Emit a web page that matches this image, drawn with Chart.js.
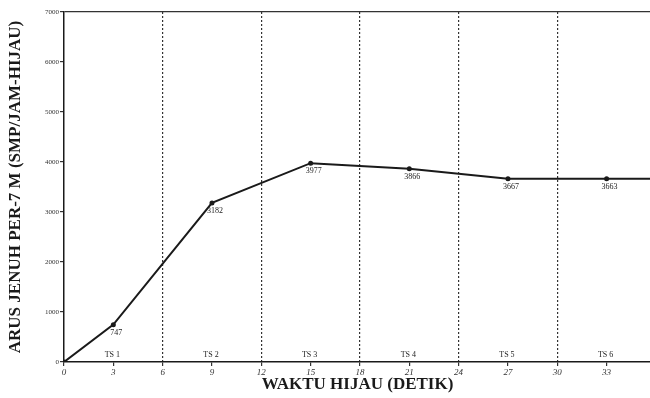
<!DOCTYPE html>
<html>
<head>
<meta charset="utf-8">
<script src="https://cdn.jsdelivr.net/npm/chart.js@4.4.1/dist/chart.umd.min.js"></script>
<style>
  html, body { margin: 0; padding: 0; background: #fff; overflow: hidden; width: 650px; height: 398px; }
  #wrap { width: 655px; height: 398px; position: relative; }
</style>
</head>
<body>
<div id="wrap"><canvas id="chart"></canvas></div>
<script>
// waktu hijau (detik) and arus jenuh per-7 m
const waktu = [0, 3, 9, 15, 21, 27, 33, 35.7]
const arus = [0, 747, 3182, 3977, 3866, 3667, 3663, 3663]
const arusLabel = ["", "747", "3182", "3977", "3866", "3667", "3663", ""]

// time slices TS 1..6 and where their names sit
const tsNames = ["TS 1", "TS 2", "TS 3", "TS 4", "TS 5", "TS 6"]
const tsCentre = [3, 9, 15, 21, 27, 33]
const tsBorders = [6, 12, 18, 24, 30]

const xTicks = [0, 3, 6, 9, 12, 15, 18, 21, 24, 27, 30, 33]
const yTicks = [0, 1000, 2000, 3000, 4000, 5000, 6000, 7000]

const serif = '"Liberation Serif", "DejaVu Serif", serif'
const ink = "#1a1a1a"

// point values under the markers and TS names above the x axis
const textPlugin = {
    id: "textLabels",
    afterDatasetsDraw(chart) {
        const ctx = chart.ctx
        const x = chart.scales.x
        const y = chart.scales.y
        ctx.save()
        ctx.fillStyle = "#222"
        ctx.textAlign = "center"
        ctx.textBaseline = "top"
        ctx.font = "8px " + serif
        for (let i = 0; i < waktu.length; i++) {
            if (!arusLabel[i]) continue
            ctx.fillText(arusLabel[i], x.getPixelForValue(waktu[i]) + 3, y.getPixelForValue(arus[i]) + 4)
        }
        ctx.textBaseline = "bottom"
        for (let i = 0; i < tsNames.length; i++) {
            ctx.fillText(tsNames[i], x.getPixelForValue(tsCentre[i]) - 1, y.getPixelForValue(0) - 3)
        }
        ctx.restore()
    }
}

new Chart(document.getElementById("chart"), {
    type: "line",
    data: {
        datasets: [{
            data: waktu.map((t, i) => ({ x: t, y: arus[i] })),
            borderColor: ink,
            borderWidth: 2,
            backgroundColor: ink,
            pointRadius: waktu.map((t, i) => (i === waktu.length - 1 ? 0 : 2.5)),
            pointBorderWidth: 0,
            tension: 0,
            fill: false
        }]
    },
    options: {
        responsive: true,
        maintainAspectRatio: false,
        animation: false,
        layout: { padding: { top: 12, right: 0, left: 0, bottom: 0 } },
        plugins: {
            legend: { display: false },
            tooltip: { enabled: false }
        },
        scales: {
            x: {
                type: "linear",
                min: 0,
                max: 35.7,
                afterBuildTicks: s => { s.ticks = xTicks.map(v => ({ value: v })) },
                afterFit: s => { s.height = 36; s.paddingRight = 0; s.paddingLeft = 0 },
                border: { color: ink, width: 1.5, dash: [2, 2] },
                grid: {
                    color: c => (c.tick && tsBorders.includes(c.tick.value) ? "#333" : "rgba(0,0,0,0)"),
                    lineWidth: 1.2,
                    tickColor: "#333",
                    tickLength: 4,
                    drawTicks: true
                },
                ticks: {
                    color: "#333",
                    font: { family: serif, size: 9, style: "italic" },
                    padding: 1,
                    maxRotation: 0,
                    autoSkip: false
                },
                title: {
                    display: true,
                    text: "WAKTU HIJAU (DETIK)",
                    color: ink,
                    font: { family: serif, size: 17, weight: "bold" },
                    padding: { top: 0, bottom: 3 }
                }
            },
            y: {
                min: 0,
                max: 7000,
                afterBuildTicks: s => { s.ticks = yTicks.map(v => ({ value: v })) },
                afterFit: s => { s.width = 64 },
                border: { color: ink, width: 1.5 },
                grid: {
                    color: c => (c.tick && c.tick.value === 7000 ? "#333" : "rgba(0,0,0,0)"),
                    lineWidth: 1.2,
                    tickColor: "#333",
                    tickLength: 4
                },
                ticks: {
                    color: "#333",
                    font: { family: serif, size: 7 },
                    padding: 1,
                    callback: v => String(v)
                },
                title: {
                    display: true,
                    text: "ARUS JENUH PER-7 M (SMP/JAM-HIJAU)",
                    color: ink,
                    font: { family: serif, size: 17, weight: "bold" },
                    padding: { top: 5, bottom: 0 }
                }
            }
        }
    },
    plugins: [textPlugin]
})
</script>
</body>
</html>
